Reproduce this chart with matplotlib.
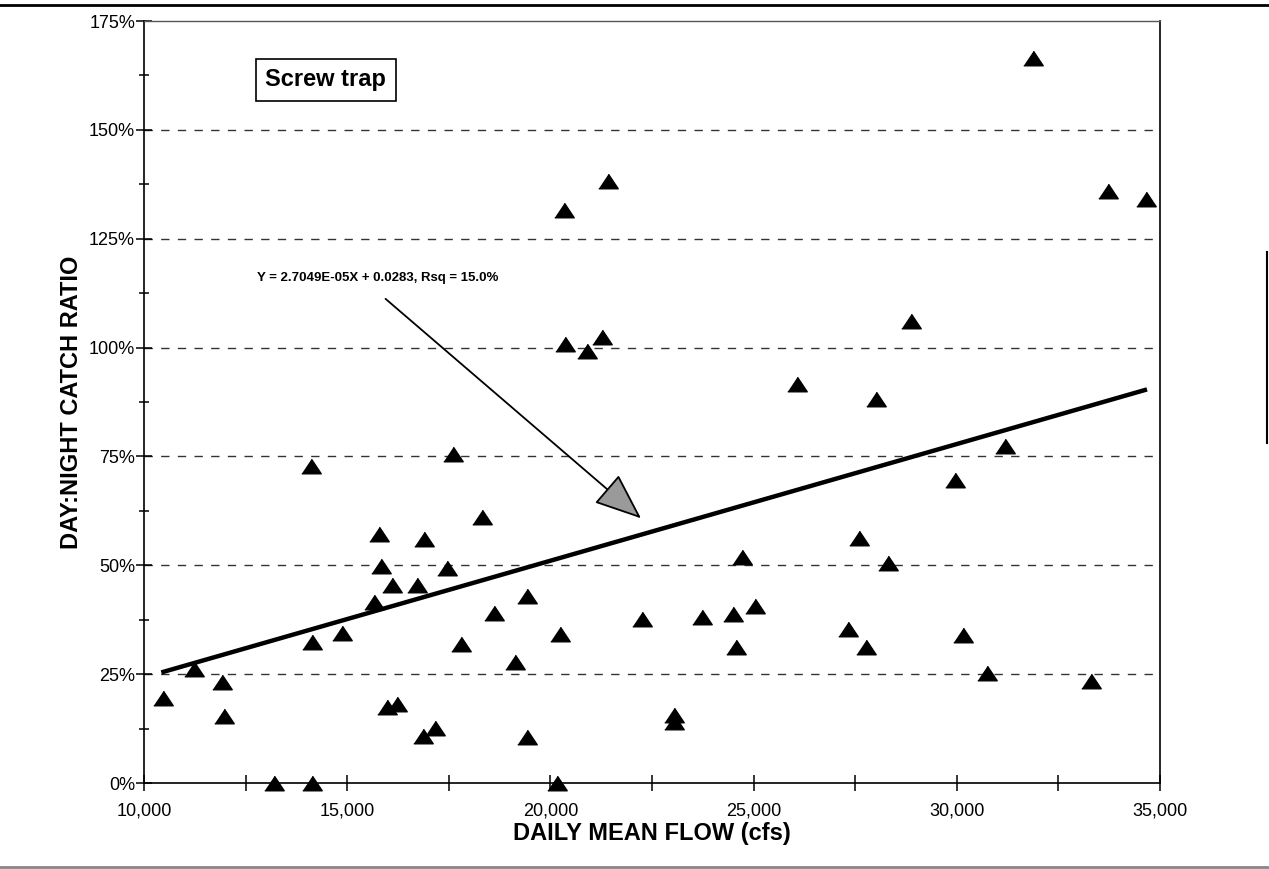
import matplotlib
matplotlib.use("Agg")
import matplotlib.pyplot as plt
from matplotlib.lines import Line2D
from matplotlib.ticker import FuncFormatter, MultipleLocator

plt.rcParams['font.family'] = ['Liberation Sans', 'DejaVu Sans']

# daily mean flow (cfs) and day:night catch ratio (%)
flow = [31881, 33723, 34656, 21419, 20339, 20363, 20904, 21272, 28861, 26061,
        28001, 31193, 29966, 27583, 24710, 28296, 22254, 23728, 24489, 25029,
        24563, 27313, 27755, 30162, 30751, 33305, 23040, 23040, 14101, 17613,
        18325, 15771, 16901, 15820, 17466, 16090, 16729, 15648, 14126, 14862,
        19430, 18620, 17809, 19135, 20241, 10467, 11228, 11915, 11965, 15968,
        16213, 16876, 17171, 19430, 13193, 14126, 20167]
ratio = [166.5, 136.0, 134.2, 138.3, 131.7, 100.9, 99.3, 102.5, 106.0, 91.7,
         88.1, 77.5, 69.7, 56.2, 51.8, 50.5, 37.6, 38.1, 38.8, 40.6,
         31.2, 35.3, 31.2, 33.9, 25.2, 23.4, 15.6, 14.0, 72.7, 75.5,
         61.2, 57.3, 56.0, 49.8, 49.5, 45.4, 45.4, 41.5, 32.3, 34.4,
         42.9, 39.0, 31.9, 27.8, 34.2, 19.5, 26.1, 23.2, 15.4, 17.4,
         18.1, 10.8, 12.6, 10.6, 0.0, 0.0, 0.0]

# fitted line as drawn on the chart
fit_x = [10425, 34681]
fit_y = [25.4, 90.4]
fit_label = "Y = 2.7049E-05X + 0.0283, Rsq = 15.0%"

fig = plt.figure(figsize=(12.69, 8.69), dpi=100)
ax = fig.add_axes([0.1135, 0.0989, 0.8006, 0.8769])

tri = [(-1, -0.75), (1, -0.75), (0, 0.75)]
ax.plot(flow, ratio, linestyle='none', marker=tri, markersize=14,
        color='black', zorder=4, clip_on=False)
ax.plot(fit_x, fit_y, color='black', lw=3.2, solid_capstyle='butt', zorder=3)

ax.set_xlim(10000, 35000)
ax.set_ylim(0, 175)
ax.xaxis.set_major_locator(MultipleLocator(5000))
ax.xaxis.set_minor_locator(MultipleLocator(2500))
ax.yaxis.set_major_locator(MultipleLocator(25))
ax.yaxis.set_minor_locator(MultipleLocator(12.5))
ax.xaxis.set_major_formatter(FuncFormatter(lambda v, p: f"{v:,.0f}"))
ax.yaxis.set_major_formatter(FuncFormatter(lambda v, p: f"{v:.0f}%"))

ax.tick_params(axis='both', which='both', direction='inout', width=1.1,
               colors='black')
ax.tick_params(axis='x', which='major', length=12, pad=8, labelsize=13)
ax.tick_params(axis='x', which='minor', length=12)
ax.tick_params(axis='y', which='major', length=11, pad=1, labelsize=13)
ax.tick_params(axis='y', which='minor', length=7)

for s in ax.spines.values():
    s.set_linewidth(1.2)
ax.spines['top'].set_color('#555555')
ax.spines['top'].set_linewidth(1.0)

for v in [25, 50, 75, 100, 125, 150]:
    ax.axhline(v, color='#333333', lw=1.0, ls=(0, (6, 6)), zorder=1)

ax.set_xlabel("DAILY MEAN FLOW (cfs)", fontsize=17, fontweight='bold',
              labelpad=2)
ax.set_ylabel("DAY:NIGHT CATCH RATIO", fontsize=17, fontweight='bold',
              labelpad=4)

ax.text(0.179, 0.923, "Screw trap", transform=ax.transAxes, fontsize=17,
        fontweight='bold', ha='center', va='center',
        bbox=dict(boxstyle='square,pad=0.4', fc='white', ec='black', lw=1.2))

ax.annotate("", xy=(22230, 60.8), xytext=(15943, 111.2),
            arrowprops=dict(arrowstyle='-|>,head_length=3.0,head_width=1.2',
                            lw=1.3, fc='#9a9a9a', ec='black',
                            shrinkA=0, shrinkB=0), zorder=5)
ax.text(12775, 116.1, fit_label, fontsize=9.5, fontweight='bold',
        ha='left', va='center')

# scan frame lines
fig.add_artist(Line2D([0, 1], [0.994, 0.994], color='black', lw=2))
fig.add_artist(Line2D([0, 1], [0.002, 0.002], color='#888888', lw=2))
fig.add_artist(Line2D([0.9985, 0.9985], [0.49, 0.71], color='black', lw=1.5))

fig.savefig("out.png", dpi=100)
